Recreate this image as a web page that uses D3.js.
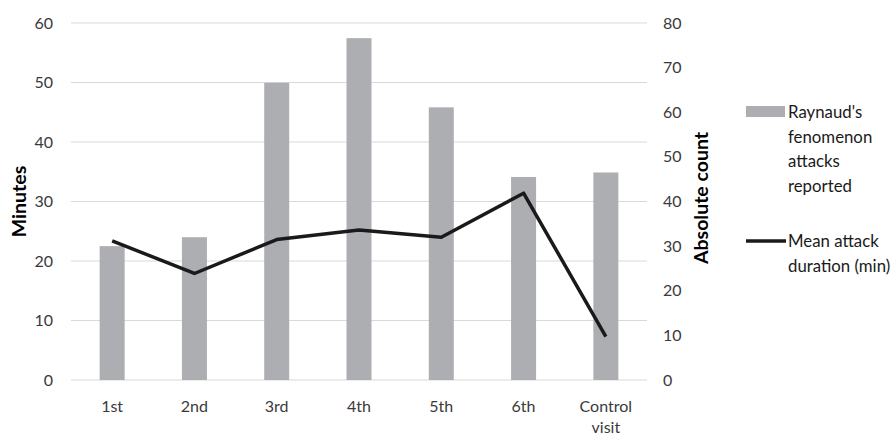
<!DOCTYPE html>
<html>
<head>
<meta charset="utf-8">
<script src="https://cdn.jsdelivr.net/npm/d3@7"></script>
<style>
  body { margin: 0; background: #fff; }
  text { font-family: Lato, "Open Sans", sans-serif; }
  .tick-label { fill: #3a3a3a; font-size: 16px; }
  .axis-title { fill: #000; font-size: 19.5px; font-weight: bold; }
  .legend-text { fill: #1a1a1a; font-size: 16.8px; }
</style>
</head>
<body>
<div id="chart"></div>
<script>
// ----------------------------------------------------------------
// Data
// ----------------------------------------------------------------

const visits = ["1st", "2nd", "3rd", "4th", "5th", "6th", "Control visit"];
const attackCounts = [30, 32, 66.6, 76.6, 61.1, 45.5, 46.5];      // right axis
const meanDuration = [23.4, 17.9, 23.6, 25.2, 24.0, 31.4, 7.3];   // left axis, minutes
const minuteTicks = [0, 10, 20, 30, 40, 50, 60];
const countTicks = [0, 10, 20, 30, 40, 50, 60, 70, 80];

// ----------------------------------------------------------------
// Drawing
// ----------------------------------------------------------------

const width = 891, height = 436;
const plot = { left: 71, right: 647, top: 23, bottom: 380 };

const svg = d3.select("#chart").append("svg")
  .attr("width", width)
  .attr("height", height);

const x = d3.scaleBand().domain(visits).range([plot.left, plot.right]);
const yMin = d3.scaleLinear().domain([0, 60]).range([plot.bottom, plot.top]);
const yCount = d3.scaleLinear().domain([0, 80]).range([plot.bottom, plot.top]);

// gridlines
svg.append("g").selectAll("line")
  .data(minuteTicks)
  .join("line")
  .attr("x1", plot.left).attr("x2", plot.right)
  .attr("y1", d => yMin(d)).attr("y2", d => yMin(d))
  .attr("stroke", "#d9d9d9")
  .attr("stroke-width", 1.2);

// left ticks
svg.append("g").selectAll("text")
  .data(minuteTicks)
  .join("text")
  .attr("class", "tick-label")
  .attr("x", 53)
  .attr("y", d => yMin(d))
  .attr("dy", "0.35em")
  .attr("text-anchor", "end")
  .text(d => d);

// right ticks
svg.append("g").selectAll("text")
  .data(countTicks)
  .join("text")
  .attr("class", "tick-label")
  .attr("x", 663)
  .attr("y", d => yCount(d))
  .attr("dy", "0.35em")
  .text(d => d);

// bars
const barW = 25;
svg.append("g").selectAll("rect")
  .data(visits)
  .join("rect")
  .attr("x", d => x(d) + x.bandwidth() / 2 - barW / 2)
  .attr("width", barW)
  .attr("y", (d, i) => yCount(attackCounts[i]))
  .attr("height", (d, i) => plot.bottom - yCount(attackCounts[i]))
  .attr("fill", "#adaeb1");

// line
const line = d3.line()
  .x((d, i) => x(visits[i]) + x.bandwidth() / 2)
  .y(d => yMin(d));
svg.append("path")
  .datum(meanDuration)
  .attr("d", line)
  .attr("fill", "none")
  .attr("stroke", "#1a1a1a")
  .attr("stroke-width", 3.5)
  .attr("stroke-linejoin", "round");

// x labels
const xl = svg.append("g").selectAll("text")
  .data(visits)
  .join("text")
  .attr("class", "tick-label")
  .attr("text-anchor", "middle")
  .attr("x", d => x(d) + x.bandwidth() / 2)
  .attr("y", 412);
xl.each(function (d) {
  const words = d.split(" ");
  const t = d3.select(this);
  words.forEach((w, j) => {
    t.append("tspan")
      .attr("x", x(d) + x.bandwidth() / 2)
      .attr("dy", j === 0 ? 0 : 21)
      .text(w);
  });
});

// axis titles
svg.append("text")
  .attr("class", "axis-title")
  .attr("transform", "translate(26," + ((plot.top + plot.bottom) / 2) + ") rotate(-90)")
  .attr("text-anchor", "middle")
  .text("Minutes");
svg.append("text")
  .attr("class", "axis-title")
  .attr("transform", "translate(708,198) rotate(-90)")
  .attr("text-anchor", "middle")
  .text("Absolute count");

// legend
svg.append("rect")
  .attr("x", 746).attr("y", 106)
  .attr("width", 39).attr("height", 11)
  .attr("fill", "#adaeb1");
svg.append("text")
  .attr("class", "legend-text")
  .selectAll("tspan")
  .data(["Raynaud's", "fenomenon", "attacks", "reported"])
  .join("tspan")
  .attr("x", 788)
  .attr("y", (d, i) => 118 + i * 24.5)
  .text(d => d);

svg.append("line")
  .attr("x1", 746).attr("x2", 786)
  .attr("y1", 241).attr("y2", 241)
  .attr("stroke", "#1a1a1a")
  .attr("stroke-width", 3.5);
svg.append("text")
  .attr("class", "legend-text")
  .selectAll("tspan")
  .data(["Mean attack", "duration (min)"])
  .join("tspan")
  .attr("x", 788)
  .attr("y", (d, i) => 247 + i * 24.5)
  .text(d => d);
</script>
</body>
</html>
